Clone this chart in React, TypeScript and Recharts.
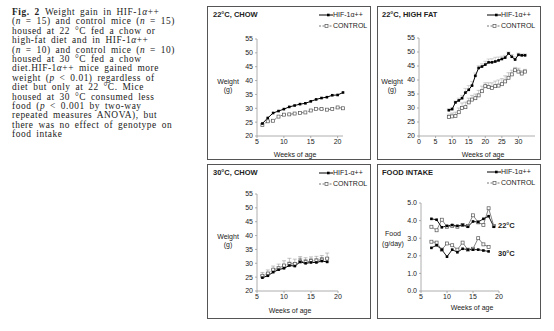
import React from "react";
import { LineChart, Line, XAxis, YAxis, ErrorBar } from "recharts";

// 22°C chow
const chowWeeks = [6, 7, 8, 9, 10, 11, 12, 13, 14, 15, 16, 17, 18, 19, 20, 21];
const chowHif = [24.5, 26.5, 28.3, 29, 29.7, 30.5, 31, 31.5, 31.8, 32.5, 33.2, 33.7, 34, 34.7, 34.8, 35.7];
const chowControl = [24, 25.3, 25.5, 27, 27.7, 27.8, 28.1, 28.3, 28.5, 29.2, 29.8, 29.7, 29.5, 29.7, 30.3, 30];

// 22°C high fat
const hfWeeks = [9, 10, 11, 12, 13, 14, 15, 16, 17, 18, 19, 20, 21, 22, 23, 24, 25, 26, 27, 28, 29, 30, 31, 32];
const hfHif = [29.2, 29.6, 32, 32.7, 33.5, 35.5, 36.5, 38, 41.5, 44.3, 44.8, 45.5, 46.3, 46.3, 46.6, 47, 47.5, 48, 49.5, 48.3, 47.3, 49, 48.8, 48.8];
const hfHifErr = [0.5, 0.5, 0.5, 0.8, 1, 1.5, 1.5, 1.5, 1, 0.8, 1, 1.2, 1.2, 1.3, 1.5, 1.2, 1, 0.8, 0.5, 0.8, 1, 0.6, 0.5, 0.5];
const hfControl = [26.8, 27, 27.2, 28.5, 30, 30.3, 32, 33, 33.5, 34.5, 36, 37.8, 37.5, 37.2, 37.8, 38, 38.5, 39.5, 40.8, 42, 43.5, 43, 42.3, 43];
const hfControlErr = [1, 1.2, 1.3, 1.5, 1.8, 1.8, 1.5, 1.5, 1.5, 1.8, 1.8, 1.2, 1.5, 1.8, 1.8, 2, 2, 2, 1.8, 1.5, 1, 1.2, 1, 0.8];

// 30°C chow
const warmWeeks = [6, 7, 8, 9, 10, 11, 12, 13, 14, 15, 16, 17, 18];
const warmHif = [24.8, 25.5, 26.8, 27.7, 28.2, 29.2, 29, 30.5, 30, 30.3, 30.3, 30.8, 30.5];
const warmHifErr = [0.8, 0.8, 1, 1, 1.2, 1.2, 1.2, 1.3, 1.3, 1.3, 1.3, 1.3, 1.5];
const warmControl = [25.5, 26.3, 27.7, 28.2, 29.2, 29.8, 29.8, 30.7, 30.5, 30.8, 31, 31.3, 31.7];
const warmControlErr = [1.2, 1.3, 1.3, 1.5, 1.7, 2, 1.7, 1.7, 1.5, 1.5, 1.5, 1.5, 2];

// food intake (g/day)
const foodWeeks = [7, 8, 9, 10, 11, 12, 13, 14, 15, 16, 17, 18, 19];
const food22Hif = [4.1, 4.05, 3.62, 3.7, 3.75, 3.7, 3.75, 3.65, 3.95, 3.92, 4.1, 4.25, 3.65];
const food22Control = [3.65, 3.45, 4.05, 3.65, 3.7, 3.65, 3.75, 3.7, 4.3, 3.9, 3.75, 4.7, 3.7];
const food30Hif = [2.45, 2.6, 2.35, 1.95, 2.35, 2.2, 2.4, 2.35, 2.35, 2.35, 2.3, 2.25, null];
const food30Control = [2.8, 2.75, 2.35, 2.7, 2.6, 2.35, 2.75, 2.35, 2.4, 3.0, 2.65, 2.5, null];

const weightTicks = [20, 25, 30, 35, 40, 45, 50, 55];
const foodTicks = [0, 1, 2, 3, 4, 5];

const chowData = chowWeeks.map((w, i) => ({ week: w, hif: chowHif[i], control: chowControl[i] }));
const hfData = hfWeeks.map((w, i) => ({
  week: w,
  hif: hfHif[i],
  hifErr: [0, hfHifErr[i]],
  control: hfControl[i],
  controlErr: [0, hfControlErr[i]],
}));
const warmData = warmWeeks.map((w, i) => ({
  week: w,
  hif: warmHif[i],
  hifErr: [0, warmHifErr[i]],
  control: warmControl[i],
  controlErr: [0, warmControlErr[i]],
}));
const foodData = foodWeeks.map((w, i) => ({
  week: w,
  hif22: food22Hif[i],
  control22: food22Control[i],
  hif30: food30Hif[i],
  control30: food30Control[i],
}));

const sans = "'Liberation Sans', Arial, sans-serif";
const serif = "'Liberation Serif', 'Times New Roman', serif";
const axisStroke = { stroke: "#999", strokeWidth: 0.8 };
const tickStyle = { fontSize: 7, fill: "#222", fontFamily: sans };

const FilledDot = (props: any) => {
  const { cx, cy, index } = props;
  if (cx == null || cy == null || isNaN(cy)) return <g key={index} />;
  return <rect key={index} x={cx - 1.3} y={cy - 1.3} width={2.6} height={2.6} fill="#000" />;
};

const OpenDot = (props: any) => {
  const { cx, cy, index } = props;
  if (cx == null || cy == null || isNaN(cy)) return <g key={index} />;
  return (
    <rect key={index} x={cx - 1.5} y={cy - 1.5} width={3} height={3} fill="#fff" stroke="#555" strokeWidth={0.7} />
  );
};

const Txt = ({ x, y, children, bold, center, size = 7 }: any) => (
  <div
    style={{
      position: "absolute",
      left: x,
      top: y - 4,
      fontSize: size,
      lineHeight: "8px",
      fontWeight: bold ? "bold" : "normal",
      whiteSpace: "nowrap",
      color: "#222",
      fontFamily: sans,
      transform: center ? "translateX(-50%)" : undefined,
    }}
  >
    {children}
  </div>
);

const LegendBox = ({ x, y, hifLabel }: any) => (
  <>
    <svg style={{ position: "absolute", left: x, top: y - 3 }} width={14} height={6}>
      <line x1={0} y1={3} x2={14} y2={3} stroke="#000" strokeWidth={1} />
      <rect x={8} y={1.7} width={2.6} height={2.6} fill="#000" />
    </svg>
    <Txt x={x + 14} y={y}>{hifLabel}</Txt>
    <svg style={{ position: "absolute", left: x, top: y + 11 - 3 }} width={14} height={6}>
      <line x1={0} y1={3} x2={14} y2={3} stroke="#555" strokeWidth={0.8} strokeDasharray="2 1.5" />
      <rect x={6} y={1.5} width={3} height={3} fill="#fff" stroke="#555" strokeWidth={0.7} />
    </svg>
    <Txt x={x + 14} y={y + 11}>CONTROL</Txt>
  </>
);

const Panel = ({ left, top, width, height, children }: any) => (
  <div style={{ position: "absolute", left, top, width, height }}>
    {children}
    <div
      style={{
        position: "absolute",
        left: 0,
        top: 0,
        width,
        height,
        border: "1.5px solid #555",
        boxSizing: "border-box",
        pointerEvents: "none",
      }}
    />
  </div>
);

const captionLines = [
  <><b>Fig. 2</b>{"\u2002"}Weight gain in HIF-1<i>α</i>++</>,
  <>(<i>n</i> = 15) and control mice (<i>n</i> = 15)</>,
  <>housed at 22 °C fed a chow or</>,
  <>high-fat diet and in HIF-1<i>α</i>++</>,
  <>(<i>n</i> = 10) and control mice (<i>n</i> = 10)</>,
  <>housed at 30 °C fed a chow</>,
  <>diet.HIF-1<i>α</i>++ mice gained more</>,
  <>weight (<i>p</i> &lt; 0.01) regardless of</>,
  <>diet but only at 22 °C. Mice</>,
  <>housed at 30 °C consumed less</>,
  <>food (<i>p</i> &lt; 0.001 by two-way</>,
  <>repeated measures ANOVA), but</>,
  <>there was no effect of genotype on</>,
  <>food intake</>,
];

export default function App() {
  return (
    <div style={{ position: "absolute", left: 0, top: 0, width: 554, height: 331, background: "#fff" }}>
      <div
        style={{
          position: "absolute",
          left: 12,
          top: 8,
          fontFamily: serif,
          fontSize: 9.4,
          letterSpacing: 0.55,
          wordSpacing: 2,
          lineHeight: "9.4px",
          color: "#222",
        }}
      >
        {captionLines.map((l, i) => (
          <div key={i} style={{ whiteSpace: "nowrap", height: 9.4 }}>{l}</div>
        ))}
      </div>

      {/* 22°C, CHOW */}
      <Panel left={207} top={6} width={164} height={154}>
        <LineChart width={164} height={154} data={chowData} margin={{ top: 33, right: 28, bottom: 4, left: 20 }}>
          <XAxis type="number" dataKey="week" domain={[5, 21]} ticks={[5, 10, 15, 20]} interval={0} height={20}
            tickSize={2} tickMargin={1} tick={tickStyle} axisLine={axisStroke} tickLine={axisStroke} />
          <YAxis type="number" domain={[20, 55]} ticks={weightTicks} interval={0} width={30}
            tickSize={2} tickMargin={2} tick={tickStyle} axisLine={axisStroke} tickLine={axisStroke} />
          <Line dataKey="control" stroke="#555" strokeWidth={0.8} strokeDasharray="2 1.5" dot={OpenDot} isAnimationActive={false} />
          <Line dataKey="hif" stroke="#000" strokeWidth={1} dot={FilledDot} isAnimationActive={false} />
        </LineChart>
        <Txt x={6} y={9} bold size={7.5}>22°C, CHOW</Txt>
        <LegendBox x={112} y={9} hifLabel="HIF-1α++" />
        <Txt x={21} y={76} center>Weight</Txt>
        <Txt x={21} y={84} center>(g)</Txt>
        <Txt x={88} y={149} center>Weeks of age</Txt>
      </Panel>

      {/* 22°C, HIGH FAT */}
      <Panel left={377} top={6} width={164} height={154}>
        <LineChart width={164} height={154} data={hfData} margin={{ top: 32, right: 6, bottom: 4, left: 12 }}>
          <XAxis type="number" dataKey="week" domain={[0, 35]} ticks={[0, 5, 10, 15, 20, 25, 30]} interval={0} height={20}
            tickSize={2} tickMargin={1} tick={tickStyle} axisLine={axisStroke} tickLine={axisStroke} />
          <YAxis type="number" domain={[20, 55]} ticks={weightTicks} interval={0} width={30}
            tickSize={2} tickMargin={2} tick={tickStyle} axisLine={axisStroke} tickLine={axisStroke} />
          <Line dataKey="control" stroke="#555" strokeWidth={0.8} strokeDasharray="2 1.5" dot={OpenDot} isAnimationActive={false}>
            <ErrorBar dataKey="controlErr" direction="y" width={2} stroke="#999" strokeWidth={0.5} isAnimationActive={false} />
          </Line>
          <Line dataKey="hif" stroke="#000" strokeWidth={1} dot={FilledDot} isAnimationActive={false}>
            <ErrorBar dataKey="hifErr" direction="y" width={2} stroke="#aaa" strokeWidth={0.5} isAnimationActive={false} />
          </Line>
        </LineChart>
        <Txt x={5} y={9} bold size={7.5}>22°C, HIGH FAT</Txt>
        <LegendBox x={110} y={9} hifLabel="HIF-1α++" />
        <Txt x={15} y={76} center>Weight</Txt>
        <Txt x={15} y={84} center>(g)</Txt>
        <Txt x={106} y={149} center>Weeks of age</Txt>
      </Panel>

      {/* 30°C, CHOW */}
      <Panel left={207} top={164} width={164} height={155}>
        <LineChart width={164} height={155} data={warmData} margin={{ top: 30, right: 33, bottom: 8, left: 20 }}>
          <XAxis type="number" dataKey="week" domain={[5, 20]} ticks={[5, 10, 15, 20]} interval={0} height={20}
            tickSize={2} tickMargin={1} tick={tickStyle} axisLine={axisStroke} tickLine={axisStroke} />
          <YAxis type="number" domain={[20, 55]} ticks={weightTicks} interval={0} width={30}
            tickSize={2} tickMargin={2} tick={tickStyle} axisLine={axisStroke} tickLine={axisStroke} />
          <Line dataKey="control" stroke="#555" strokeWidth={0.8} strokeDasharray="2 1.5" dot={OpenDot} isAnimationActive={false}>
            <ErrorBar dataKey="controlErr" direction="y" width={2} stroke="#888" strokeWidth={0.5} isAnimationActive={false} />
          </Line>
          <Line dataKey="hif" stroke="#000" strokeWidth={1} dot={FilledDot} isAnimationActive={false}>
            <ErrorBar dataKey="hifErr" direction="y" width={2} stroke="#555" strokeWidth={0.5} isAnimationActive={false} />
          </Line>
        </LineChart>
        <Txt x={6} y={9} bold size={7.5}>30°C, CHOW</Txt>
        <LegendBox x={112} y={8.5} hifLabel="HIF1-α++" />
        <Txt x={21} y={73} center>Weight</Txt>
        <Txt x={21} y={81} center>(g)</Txt>
        <Txt x={83} y={147} center>Weeks of age</Txt>
      </Panel>

      {/* FOOD INTAKE */}
      <Panel left={377} top={164} width={164} height={155}>
        <LineChart width={164} height={155} data={foodData} margin={{ top: 39, right: 42, bottom: 8, left: 14 }}>
          <XAxis type="number" dataKey="week" domain={[5, 20]} ticks={[5, 10, 15, 20]} interval={0} height={20}
            tickSize={2} tickMargin={1} tick={tickStyle} axisLine={axisStroke} tickLine={axisStroke} />
          <YAxis type="number" domain={[0, 5]} ticks={foodTicks} interval={0} width={30}
            tickFormatter={(v: number) => v.toFixed(1)}
            tickSize={2} tickMargin={2} tick={tickStyle} axisLine={axisStroke} tickLine={axisStroke} />
          <Line dataKey="control22" stroke="#666" strokeWidth={0.8} dot={OpenDot} isAnimationActive={false} />
          <Line dataKey="hif22" stroke="#000" strokeWidth={0.9} dot={FilledDot} isAnimationActive={false} />
          <Line dataKey="control30" stroke="#666" strokeWidth={0.8} dot={OpenDot} isAnimationActive={false} />
          <Line dataKey="hif30" stroke="#000" strokeWidth={0.9} dot={FilledDot} isAnimationActive={false} />
        </LineChart>
        <Txt x={5} y={9} bold size={7.5}>FOOD INTAKE</Txt>
        <LegendBox x={110} y={8} hifLabel="HIF-1α++" />
        <Txt x={121} y={62} bold size={7.5}>22°C</Txt>
        <Txt x={121} y={90} bold size={7.5}>30°C</Txt>
        <Txt x={16} y={70} center>Food</Txt>
        <Txt x={16} y={80} center>(g/day)</Txt>
        <Txt x={95} y={144} center>Weeks of age</Txt>
      </Panel>
    </div>
  );
}
